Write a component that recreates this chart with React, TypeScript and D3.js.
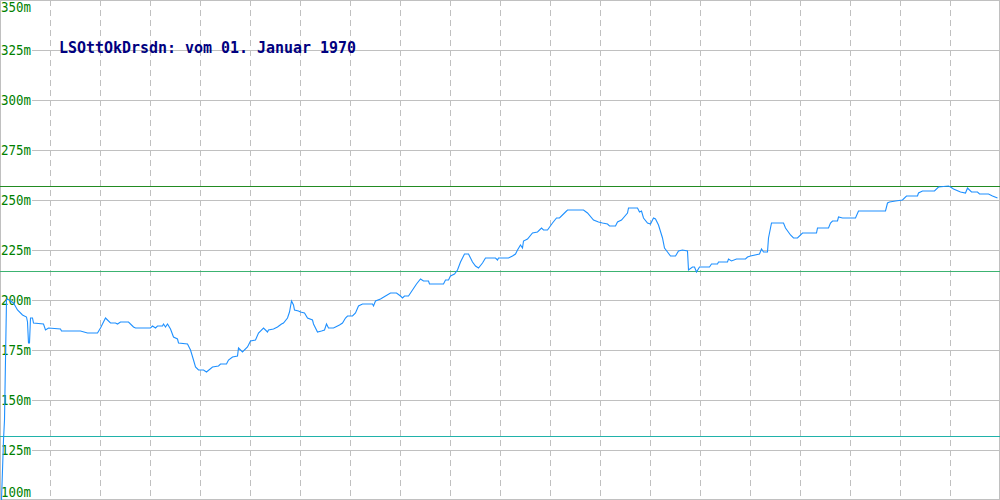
import React from "react";
import * as d3 from "d3";

const W = 1000;
const H = 500;

const title = "LSOttOkDrsdn: vom 01. Januar 1970";
const yTicks = [100, 125, 150, 175, 200, 225, 250, 275, 300, 325, 350];
const xGrid = [50, 100, 150, 200, 250, 300, 350, 400, 450, 500, 550, 600, 650, 700, 750, 800, 850, 900, 950];

const refLines = [
  { value: 257, color: "#228b22" },
  { value: 214.5, color: "#3cb371" },
  { value: 132, color: "#20b2aa" },
];

const times = [
  1, 3, 4, 6, 7, 13, 17, 22, 26, 27, 28, 29, 30, 32, 33, 43, 45, 48, 60, 61, 80, 87, 97, 100, 105, 110, 115, 117, 120, 128,
  133, 135, 150, 152, 155, 157, 162, 163, 165, 167, 170, 173, 177, 178, 187, 190, 193, 195, 198, 203, 206, 212, 218, 220, 226,
  228, 232, 237, 238, 242, 247, 250, 255, 258, 263, 267, 268, 273, 277, 281, 283, 287, 289, 291, 293, 294, 298, 300, 304, 307,
  312, 313, 317, 321, 324, 326, 328, 333, 335, 339, 342, 345, 347, 352, 355, 358, 362, 372, 373, 375, 380, 385, 390, 396, 400,
  402, 404, 408, 412, 416, 420, 423, 428, 429, 443, 445, 448, 450, 454, 457, 460, 464, 468, 472, 475, 478, 482, 485, 495, 497,
  498, 508, 512, 515, 517, 520, 522, 523, 527, 532, 537, 541, 543, 547, 552, 556, 559, 565, 567, 583, 587, 593, 598, 602, 607,
  609, 615, 617, 621, 627, 628, 637, 639, 641, 643, 647, 650, 653, 655, 658, 662, 664, 667, 670, 675, 678, 682, 687, 688, 692,
  694, 696, 699, 709, 711, 717, 718, 727, 728, 731, 736, 745, 747, 750, 759, 761, 763, 767, 768, 771, 783, 785, 790, 793, 797,
  802, 816, 817, 828, 830, 832, 837, 838, 842, 855, 858, 885, 887, 889, 895, 902, 906, 917, 918, 922, 934, 938, 948, 950, 953,
  960, 965, 967, 971, 977, 979, 988, 992, 997,
];

const heights = [
  100, 130, 140, 200, 200.5, 198.5, 195, 192.5, 191.5, 189, 178.5, 178.5, 191, 191, 188.5, 188, 185, 186, 185.5, 184.5, 184.5,
  183.5, 183.5, 186, 191, 188.5, 188.5, 188, 189, 189,
  186.5, 186, 186, 187, 186, 187, 187, 188, 186.5, 188, 185.5, 181.5, 180.5, 178.5, 178, 175, 170, 166.5, 165, 165, 164, 166.5,
  167, 168, 168,
  170, 171.5, 172, 176, 174, 176.5, 179.5, 180, 183.5, 186, 184, 185, 185.5, 186.5, 188, 188.5, 191, 194, 199.5, 197.5, 195,
  194.5, 194, 193.5, 191,
  190, 188, 184, 184.5, 185, 188, 186, 186, 186.5, 187.5, 188.5, 191, 192, 192, 193.5, 197, 198, 198, 197, 199.5, 200.5, 202,
  203.5, 203.5, 202,
  201, 202, 202, 205, 208, 210.5, 209.5, 209.5, 208, 208, 210, 210, 212, 213, 215, 219, 223, 223, 219, 217, 216, 218.5, 221,
  221, 220,
  221, 221, 222, 223, 225, 227.5, 226, 229.5, 230.5, 233.5, 234, 236, 235, 235, 238.5, 241, 241, 244, 245, 245, 243.5, 240, 239,
  238.5, 238,
  237, 237, 239, 240, 243.5, 246, 246, 244, 244.5, 241, 238.5, 238, 241, 240.5, 237.5, 231, 226, 224, 222, 222, 224.5, 225,
  224.5, 215, 216.5,
  216.5, 214, 216.5, 216.5, 218, 218, 219, 219, 220.5, 219.5, 220.5, 220.5, 221.5, 222, 223, 225.5, 224, 224, 231, 238.5, 238.5,
  236, 232.5, 231, 231,
  233.5, 233.5, 236, 236, 238.5, 239.5, 239.5, 241.5, 241, 241, 244.5, 244.5, 248.5, 249, 249.5, 250, 252, 252, 253.5, 254.5,
  254.5, 256.5, 257, 256.5, 255.5,
  254, 253.5, 256, 254, 254, 253, 253, 252, 251,
];

export default function App() {
  const x = d3.scaleLinear().domain([0, 999]).range([0, 999]);
  const y = d3.scaleLinear().domain([100, 350]).range([500, 0]);
  const px = (v: number) => Math.round(v) + 0.5;

  const data = times.map((t, i) => [t, heights[i]] as [number, number]);
  const line = d3
    .line<[number, number]>()
    .x((d) => x(d[0]) + 0.5)
    .y((d) => y(d[1]));

  const mono = "'DejaVu Sans Mono', monospace";

  return (
    <svg
      width={W}
      height={H}
      style={{ position: "absolute", left: 0, top: 0, background: "#fff" }}
    >
      <rect x={0} y={0} width={W} height={H} fill="#fff" />
      {/* horizontal grid */}
      {yTicks.map((v) => (
        <line
          key={"h" + v}
          x1={32}
          x2={W}
          y1={px(Math.min(y(v), 499))}
          y2={px(Math.min(y(v), 499))}
          stroke="#c0c0c0"
          strokeWidth={1}
          shapeRendering="crispEdges"
        />
      ))}
      {/* vertical dashed grid */}
      {xGrid.map((v) => (
        <line
          key={"v" + v}
          x1={px(x(v))}
          x2={px(x(v))}
          y1={0}
          y2={H}
          stroke="#c0c0c0"
          strokeWidth={1}
          strokeDasharray="6,4"
          shapeRendering="crispEdges"
        />
      ))}
      {/* border */}
      <rect
        x={0.5}
        y={0.5}
        width={W - 1}
        height={H - 1}
        fill="none"
        stroke="#c0c0c0"
        strokeWidth={1}
        shapeRendering="crispEdges"
      />
      {/* reference lines */}
      {refLines.map((r) => (
        <line
          key={"r" + r.value}
          x1={0}
          x2={W}
          y1={px(y(r.value))}
          y2={px(y(r.value))}
          stroke={r.color}
          strokeWidth={1}
          shapeRendering="crispEdges"
        />
      ))}
      {/* y labels */}
      {yTicks.map((v) => (
        <text
          key={"t" + v}
          x={1}
          y={Math.max(12, Math.min(y(v) + 5, 497))}
          fill="#008000"
          fontFamily={mono}
          fontSize={14}
          textLength={30}
          lengthAdjust="spacingAndGlyphs"
        >
          {v + "m"}
        </text>
      ))}
      {/* title */}
      <text
        x={59}
        y={53}
        fill="#000080"
        fontFamily={mono}
        fontWeight="bold"
        fontSize={15}
        textLength={297}
        lengthAdjust="spacingAndGlyphs"
      >
        {title}
      </text>
      {/* data line */}
      <path
        d={line(data) || ""}
        fill="none"
        stroke="#1e90ff"
        strokeWidth={1.1}
      />
    </svg>
  );
}
